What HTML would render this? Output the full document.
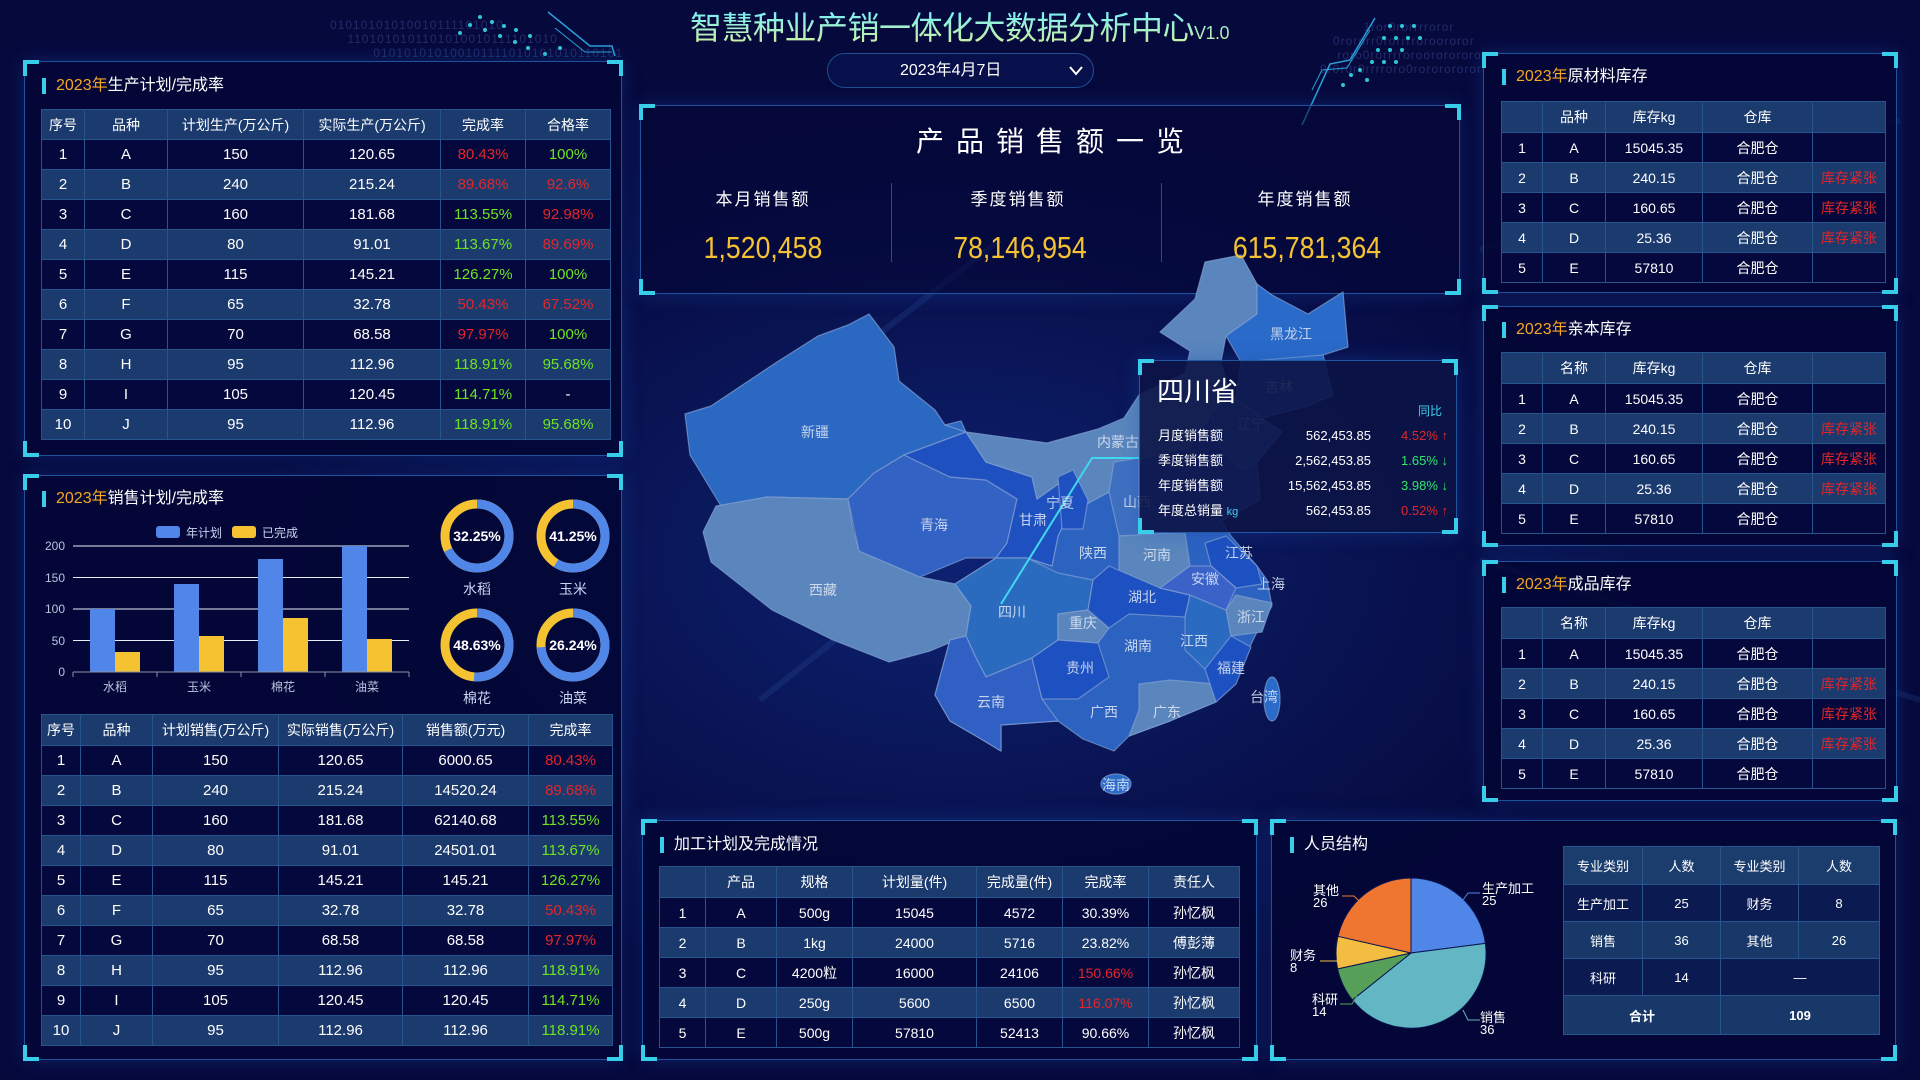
<!DOCTYPE html>
<html><head><meta charset="utf-8">
<style>
*{margin:0;padding:0;box-sizing:border-box}
body{width:1920px;height:1080px;overflow:hidden;position:relative;font-family:"Liberation Sans","Noto Sans CJK SC",sans-serif;color:#fff;
background:radial-gradient(ellipse 700px 450px at 960px 560px,#0d2272 0%,#0a1658 45%,#06093c 100%);}
.abs{position:absolute}
.pnl{position:absolute;border:1px solid rgba(40,110,190,.75);background:rgba(3,6,52,.82);box-shadow:0 0 18px rgba(30,80,180,.35)}
.c{position:absolute;width:16px;height:16px;border-color:#38cde8;border-style:solid}
.tl{left:-2px;top:-2px;border-width:4px 0 0 4px}.tr{right:-2px;top:-2px;border-width:4px 4px 0 0}
.bl{left:-2px;bottom:-2px;border-width:0 0 4px 4px}.br{right:-2px;bottom:-2px;border-width:0 4px 4px 0}
.ttl{position:absolute;font-size:16px;line-height:20px;color:#fff;padding-left:14px;white-space:nowrap}
.ttl:before{content:"";position:absolute;left:0;top:2px;width:4px;height:16px;background:#38cde8}
.ttl b{font-weight:normal;color:#f5a623}
table{position:absolute;border-collapse:collapse;table-layout:fixed;font-size:15px}
td,th{border:1px solid #28548e;text-align:center;white-space:nowrap;overflow:hidden;font-weight:normal}
th{font-size:14px;background:#1b3a6e}
tr:nth-child(odd) td{background:#1b3a6e}
tr:nth-child(even) td{background:#05083c}
.r{color:#e3262a}.g{color:#6ee41e}
.t1 td,.t1 th{height:30px}
.num{position:absolute;text-align:center;font-size:31px;line-height:34px;color:#f5c332;transform:scaleX(0.86)}
</style></head><body>

<div class="abs" style="left:330px;top:18px;font-size:12px;color:rgba(90,110,190,.35);letter-spacing:1px;line-height:14px">01010101010010111101010<br>&nbsp;&nbsp;&nbsp;&nbsp;1101010101101010010111101010<br>&nbsp;&nbsp;&nbsp;&nbsp;&nbsp;&nbsp;&nbsp;&nbsp;&nbsp;&nbsp;010101010100101111010101010110101</div>
<div class="abs" style="left:1320px;top:20px;font-size:12px;color:rgba(90,110,190,.35);letter-spacing:1px;line-height:14px">&nbsp;&nbsp;&nbsp;&nbsp;&nbsp;&nbsp;&nbsp;&nbsp;&nbsp;&nbsp;1ror0rorrrroror<br>&nbsp;&nbsp;&nbsp;0rororr0rorrrroroororor<br>&nbsp;&nbsp;&nbsp;&nbsp;roro0rorrrroroorororororr<br>0r0r0r0rrrroro0rorororororr</div>

<svg class="abs" style="left:0;top:0" width="1920" height="1080">
 <g fill="#2fc7d8">
  <circle cx="480" cy="17" r="2"/><circle cx="492" cy="22" r="2"/><circle cx="504" cy="26" r="2"/><circle cx="516" cy="30" r="2"/><circle cx="470" cy="25" r="2"/><circle cx="485" cy="30" r="2"/><circle cx="500" cy="36" r="2"/><circle cx="515" cy="42" r="2"/><circle cx="528" cy="48" r="2"/><circle cx="545" cy="54" r="2"/><circle cx="560" cy="48" r="2"/><circle cx="460" cy="33" r="2"/><circle cx="530" cy="36" r="2"/>
  <circle cx="1390" cy="26" r="2"/><circle cx="1402" cy="26" r="2"/><circle cx="1414" cy="26" r="2"/><circle cx="1384" cy="38" r="2"/><circle cx="1396" cy="38" r="2"/><circle cx="1408" cy="38" r="2"/><circle cx="1420" cy="38" r="2"/><circle cx="1378" cy="50" r="2"/><circle cx="1390" cy="50" r="2"/><circle cx="1402" cy="50" r="2"/><circle cx="1372" cy="62" r="2"/><circle cx="1384" cy="62" r="2"/><circle cx="1396" cy="62" r="2"/><circle cx="1343" cy="85" r="2"/><circle cx="1351" cy="75" r="2"/><circle cx="1360" cy="70" r="2"/><circle cx="1367" cy="80" r="2"/>
 </g>
 <path d="M548 12 L590 46 L612 46 L615 56" stroke="#2aa0d8" fill="none" stroke-width="1.5"/>
 <path d="M555 28 L585 52 L612 52" stroke="#2aa0d8" fill="none" stroke-width="1"/>
 <path d="M1375 18 L1350 60 L1330 64 L1302 125" stroke="#2aa0d8" fill="none" stroke-width="1.5"/>
 <path d="M1370 30 L1347 68 L1322 70 L1312 90" stroke="#2aa0d8" fill="none" stroke-width="1"/>
 <path d="M820 380 L1000 240 M760 700 L960 540 M1480 250 L1900 120 M1480 560 L1920 700" stroke="rgba(80,140,230,.12)" stroke-width="6"/>
</svg>

<div class="abs" style="left:690px;top:8px;width:560px;white-space:nowrap;font-size:32px;line-height:40px;letter-spacing:-0.5px;background:linear-gradient(#6ff0ff,#e6f08a);-webkit-background-clip:text;background-clip:text;color:transparent">智慧种业产销一体化大数据分析中心<span style="font-size:18px">V1.0</span></div>
<div class="abs" style="left:827px;top:53px;width:267px;height:35px;border:1px solid #1f4f90;border-radius:18px;background:#07104a"></div>
<div class="abs" style="left:900px;top:61px;font-size:16px;line-height:20px">2023年4月7日</div>
<svg class="abs" style="left:1068px;top:65px" width="16" height="12"><path d="M2 2 L8 9 L14 2" stroke="#fff" stroke-width="2" fill="none"/></svg>

<div class="pnl" style="left:24px;top:61px;width:598px;height:395px"><i class="c tl"></i><i class="c tr"></i><i class="c bl"></i><i class="c br"></i></div>
<div class="ttl" style="left:42px;top:76px"><b>2023年</b>生产计划/完成率</div>
<table class="t1" style="left:41px;top:109px;width:569px">
<colgroup><col style="width:43px"><col style="width:83px"><col style="width:136px"><col style="width:137px"><col style="width:85px"><col style="width:85px"></colgroup>
<tr><th>序号</th><th>品种</th><th>计划生产(万公斤)</th><th>实际生产(万公斤)</th><th>完成率</th><th>合格率</th></tr>
<tr><td>1</td><td>A</td><td>150</td><td>120.65</td><td class="r">80.43%</td><td class="g">100%</td></tr>
<tr><td>2</td><td>B</td><td>240</td><td>215.24</td><td class="r">89.68%</td><td class="r">92.6%</td></tr>
<tr><td>3</td><td>C</td><td>160</td><td>181.68</td><td class="g">113.55%</td><td class="r">92.98%</td></tr>
<tr><td>4</td><td>D</td><td>80</td><td>91.01</td><td class="g">113.67%</td><td class="r">89.69%</td></tr>
<tr><td>5</td><td>E</td><td>115</td><td>145.21</td><td class="g">126.27%</td><td class="g">100%</td></tr>
<tr><td>6</td><td>F</td><td>65</td><td>32.78</td><td class="r">50.43%</td><td class="r">67.52%</td></tr>
<tr><td>7</td><td>G</td><td>70</td><td>68.58</td><td class="r">97.97%</td><td class="g">100%</td></tr>
<tr><td>8</td><td>H</td><td>95</td><td>112.96</td><td class="g">118.91%</td><td class="g">95.68%</td></tr>
<tr><td>9</td><td>I</td><td>105</td><td>120.45</td><td class="g">114.71%</td><td>-</td></tr>
<tr><td>10</td><td>J</td><td>95</td><td>112.96</td><td class="g">118.91%</td><td class="g">95.68%</td></tr>
</table>

<div class="pnl" style="left:24px;top:475px;width:598px;height:585px"><i class="c tl"></i><i class="c tr"></i><i class="c bl"></i><i class="c br"></i></div>
<div class="ttl" style="left:42px;top:489px"><b>2023年</b>销售计划/完成率</div>
<svg class="abs" style="left:0;top:0" width="640" height="720" font-family="Liberation Sans,Noto Sans CJK SC,sans-serif">
 <rect x="156" y="526" width="24" height="12" rx="3" fill="#4f86e8"/><text x="186" y="537" font-size="12" fill="#c8d4f0">年计划</text>
 <rect x="232" y="526" width="24" height="12" rx="3" fill="#f5c332"/><text x="262" y="537" font-size="12" fill="#c8d4f0">已完成</text>
 <g stroke="#e8eef8" stroke-width="1"><line x1="73" y1="546" x2="409" y2="546"/><line x1="73" y1="577.5" x2="409" y2="577.5"/><line x1="73" y1="609" x2="409" y2="609"/><line x1="73" y1="640.5" x2="409" y2="640.5"/></g>
 <g fill="#b8c4e0" font-size="12" text-anchor="end"><text x="65" y="550">200</text><text x="65" y="582">150</text><text x="65" y="613">100</text><text x="65" y="645">50</text><text x="65" y="676">0</text></g>
 <g fill="#4f86e8"><rect x="90" y="609" width="25" height="63"/><rect x="174" y="584" width="25" height="88"/><rect x="258" y="559" width="25" height="113"/><rect x="342" y="546" width="25" height="126"/></g>
 <g fill="#f5c332"><rect x="115" y="652" width="25" height="20"/><rect x="199" y="636" width="25" height="36"/><rect x="283" y="618" width="25" height="54"/><rect x="367" y="639" width="25" height="33"/></g>
 <g stroke="#8a94a8"><line x1="73" y1="672" x2="409" y2="672"/><line x1="73" y1="672" x2="73" y2="677"/><line x1="157" y1="672" x2="157" y2="677"/><line x1="241" y1="672" x2="241" y2="677"/><line x1="325" y1="672" x2="325" y2="677"/><line x1="409" y1="672" x2="409" y2="677"/></g>
 <g fill="#b8c4e0" font-size="12" text-anchor="middle"><text x="115" y="691">水稻</text><text x="199" y="691">玉米</text><text x="283" y="691">棉花</text><text x="367" y="691">油菜</text></g>
 <g fill="none" stroke-width="9">
  <circle cx="477" cy="536" r="32" stroke="#f5c332"/><circle cx="477" cy="536" r="32" stroke="#4f86e8" stroke-dasharray="136.2 300" transform="rotate(-90 477 536)"/>
  <circle cx="573" cy="536" r="32" stroke="#f5c332"/><circle cx="573" cy="536" r="32" stroke="#4f86e8" stroke-dasharray="118.2 300" transform="rotate(-90 573 536)"/>
  <circle cx="477" cy="645" r="32" stroke="#f5c332"/><circle cx="477" cy="645" r="32" stroke="#4f86e8" stroke-dasharray="103.3 300" transform="rotate(-90 477 645)"/>
  <circle cx="573" cy="645" r="32" stroke="#f5c332"/><circle cx="573" cy="645" r="32" stroke="#4f86e8" stroke-dasharray="148.3 300" transform="rotate(-90 573 645)"/>
 </g>
 <g fill="#fff" font-size="14" font-weight="bold" text-anchor="middle"><text x="477" y="541">32.25%</text><text x="573" y="541">41.25%</text><text x="477" y="650">48.63%</text><text x="573" y="650">26.24%</text></g>
 <g fill="#c8d4f0" font-size="14" text-anchor="middle"><text x="477" y="594">水稻</text><text x="573" y="594">玉米</text><text x="477" y="703">棉花</text><text x="573" y="703">油菜</text></g>
</svg>
<table class="t1" style="left:41px;top:714px;width:571px">
<colgroup><col style="width:39px"><col style="width:72px"><col style="width:126px"><col style="width:124px"><col style="width:126px"><col style="width:84px"></colgroup>
<tr><th style="height:31px">序号</th><th>品种</th><th>计划销售(万公斤)</th><th>实际销售(万公斤)</th><th>销售额(万元)</th><th>完成率</th></tr>
<tr><td>1</td><td>A</td><td>150</td><td>120.65</td><td>6000.65</td><td class="r">80.43%</td></tr>
<tr><td>2</td><td>B</td><td>240</td><td>215.24</td><td>14520.24</td><td class="r">89.68%</td></tr>
<tr><td>3</td><td>C</td><td>160</td><td>181.68</td><td>62140.68</td><td class="g">113.55%</td></tr>
<tr><td>4</td><td>D</td><td>80</td><td>91.01</td><td>24501.01</td><td class="g">113.67%</td></tr>
<tr><td>5</td><td>E</td><td>115</td><td>145.21</td><td>145.21</td><td class="g">126.27%</td></tr>
<tr><td>6</td><td>F</td><td>65</td><td>32.78</td><td>32.78</td><td class="r">50.43%</td></tr>
<tr><td>7</td><td>G</td><td>70</td><td>68.58</td><td>68.58</td><td class="r">97.97%</td></tr>
<tr><td>8</td><td>H</td><td>95</td><td>112.96</td><td>112.96</td><td class="g">118.91%</td></tr>
<tr><td>9</td><td>I</td><td>105</td><td>120.45</td><td>120.45</td><td class="g">114.71%</td></tr>
<tr><td>10</td><td>J</td><td>95</td><td>112.96</td><td>112.96</td><td class="g">118.91%</td></tr>
</table>

<div class="pnl" style="left:640px;top:105px;width:820px;height:189px;background:rgba(3,6,52,.55)"><i class="c tl"></i><i class="c tr"></i><i class="c bl"></i><i class="c br"></i></div>

<svg class="abs" style="left:0;top:0" width="1920" height="1080" font-family="Liberation Sans,Noto Sans CJK SC,sans-serif">
 <g stroke="rgba(130,160,210,.7)" stroke-width="1.2" stroke-linejoin="round">
  <polygon fill="#2a68c2" points="685,414 711,406 777,362 818,336 848,325 869,314 894,347 899,381 935,410 945,425 961,421 966,432 904,455 874,473 848,499 767,497 721,506 690,455"/>
  <polygon fill="#5a86bd" points="716,506 767,497 848,499 853,529 859,551 920,577 955,584 971,606 966,636 930,651 889,662 833,640 772,610 711,562 703,532"/>
  <polygon fill="#2c62c0" points="1068,477 1083,506 1109,492 1129,462 1190,447 1211,414 1221,447 1241,469 1257,462 1260,500 1221,521 1231,536 1257,566 1267,580 1272,606 1257,632 1241,665 1216,702 1170,721 1129,736 1114,751 1083,739 1058,721 1001,725 1001,751 976,736 950,721 935,695 950,640 966,636 971,606 955,584 996,558 1027,558 1052,566 1058,536 1073,506"/>
  <polygon fill="#3262c4" points="848,499 874,473 904,455 950,477 986,480 1017,499 1007,543 996,558 966,558 920,577 859,551"/>
  <polygon fill="#1f50c0" points="945,425 966,432 986,462 1032,477 1037,499 1068,477 1073,506 1058,536 1052,566 1027,558 996,558 1007,543 1017,499 986,480 950,477 904,455 966,432"/>
  <polygon fill="#5a86bd" points="966,432 1047,443 1098,429 1124,418 1139,395 1185,373 1190,351 1160,332 1195,299 1205,262 1241,255 1257,284 1257,314 1226,336 1221,362 1231,395 1211,414 1190,447 1129,462 1109,492 1083,506 1068,477 1037,499 1032,477 986,462"/>
  <polygon fill="#2a6ac8" points="1257,284 1272,295 1308,314 1343,292 1348,347 1323,355 1277,362 1241,362 1226,336 1257,314"/>
  <polygon fill="#2a6ac8" points="1241,362 1323,355 1333,395 1308,406 1262,418 1236,399"/>
  <polygon fill="#3a6ec8" points="1236,399 1262,418 1282,432 1257,462 1241,469 1221,447 1211,414 1231,395"/>
  <polygon fill="#1f50c0" points="1058,477 1073,470 1088,500 1083,529 1062,529"/>
  <polygon fill="#3f70c0" points="1114,462 1139,458 1139,536 1119,536 1109,492"/>
  <polygon fill="#2b6bbf" points="955,584 996,558 1027,558 1058,573 1093,580 1088,610 1058,614 1058,640 1032,658 986,677 976,658 966,636 971,606"/>
  <polygon fill="#3060c4" points="935,695 950,640 966,636 976,658 986,677 1032,658 1042,699 1058,721 1001,725 1001,751 976,736 950,721"/>
  <polygon fill="#5a86bd" points="1119,536 1185,532 1190,566 1160,588 1119,573"/>
  <polygon fill="#5a86bd" points="1139,684 1170,680 1216,684 1216,702 1170,721 1129,736 1139,710"/>
  <polygon fill="#5a86bd" points="1236,595 1272,603 1262,632 1231,636 1226,610"/>
  <polygon fill="#5a86bd" points="1058,614 1088,610 1109,628 1098,643 1058,640"/>
  <polygon fill="#1d50c0" points="1109,566 1160,588 1190,595 1185,617 1129,614 1109,628 1088,610 1093,580"/>
  <polygon fill="#1d50c0" points="1032,658 1058,640 1098,643 1109,677 1078,699 1042,699"/>
  <polygon fill="#1d50c0" points="1210,636 1231,636 1251,647 1236,684 1216,702 1205,669"/>
  <polygon fill="#1d50c0" points="1205,543 1226,536 1257,566 1262,584 1236,588 1211,566"/>
  <polygon fill="#2a6ac0" points="1190,595 1226,610 1231,636 1205,669 1185,650 1185,617"/>
  <polygon fill="#3a62c8" points="1160,588 1190,566 1211,566 1236,588 1226,610 1190,595"/>
  <ellipse cx="1116" cy="784" rx="15" ry="10" fill="#2a6ac8"/>
  <ellipse cx="1272" cy="699" rx="8" ry="22" fill="#2a6ac8"/>
 </g>
 <polyline points="1001,604 1092,458 1139,458" stroke="#3fd8f0" stroke-width="2" fill="none"/>
 <g fill="rgba(225,232,245,.85)" font-size="14" text-anchor="middle">
  <text x="815" y="437">新疆</text><text x="823" y="595">西藏</text><text x="934" y="530">青海</text><text x="1033" y="525">甘肃</text><text x="1060" y="508">宁夏</text><text x="1118" y="447">内蒙古</text><text x="1291" y="339">黑龙江</text><text x="1279" y="392">吉林</text><text x="1251" y="429">辽宁</text><text x="1137" y="507">山西</text><text x="1093" y="558">陕西</text><text x="1157" y="560">河南</text><text x="1239" y="558">江苏</text><text x="1205" y="584">安徽</text><text x="1271" y="589">上海</text><text x="1142" y="602">湖北</text><text x="1012" y="617">四川</text><text x="1083" y="628">重庆</text><text x="1251" y="622">浙江</text><text x="1138" y="651">湖南</text><text x="1194" y="646">江西</text><text x="1080" y="673">贵州</text><text x="1231" y="673">福建</text><text x="1264" y="702">台湾</text><text x="991" y="707">云南</text><text x="1104" y="717">广西</text><text x="1167" y="717">广东</text><text x="1116" y="790">海南</text>
 </g>
</svg>

<div class="abs" style="left:640px;top:124px;width:820px;text-align:center;font-size:28px;line-height:36px;letter-spacing:12px;padding-left:12px">产品销售额一览</div>
<div class="abs" style="left:891px;top:183px;width:1px;height:79px;background:#1f4f90"></div>
<div class="abs" style="left:1161px;top:183px;width:1px;height:79px;background:#1f4f90"></div>
<div class="abs" style="left:663px;top:185px;width:200px;text-align:center;font-size:17px;letter-spacing:2px">本月销售额</div>
<div class="abs" style="left:918px;top:185px;width:200px;text-align:center;font-size:17px;letter-spacing:2px">季度销售额</div>
<div class="abs" style="left:1205px;top:185px;width:200px;text-align:center;font-size:17px;letter-spacing:2px">年度销售额</div>
<div class="num" style="left:663px;top:231px;width:200px">1,520,458</div>
<div class="num" style="left:920px;top:231px;width:200px">78,146,954</div>
<div class="num" style="left:1207px;top:231px;width:200px">615,781,364</div>

<div class="pnl" style="left:1139px;top:360px;width:318px;height:173px;background:rgba(12,20,70,.9)"><i class="c tl"></i><i class="c tr"></i><i class="c bl"></i><i class="c br"></i></div>
<div class="abs" style="left:1157px;top:376px;font-size:27px;line-height:32px">四川省</div>
<div class="abs" style="left:1418px;top:402px;font-size:12px;color:#3fd0f0">同比</div>
<div class="abs" style="left:1158px;top:423px;width:290px;font-size:13px;line-height:25px">
 <div style="position:relative">月度销售额<span style="position:absolute;right:77px">562,453.85</span><span class="r" style="position:absolute;right:0">4.52% ↑</span></div>
 <div style="position:relative">季度销售额<span style="position:absolute;right:77px">2,562,453.85</span><span style="position:absolute;right:0;color:#2ee66a">1.65% ↓</span></div>
 <div style="position:relative">年度销售额<span style="position:absolute;right:77px">15,562,453.85</span><span style="position:absolute;right:0;color:#2ee66a">3.98% ↓</span></div>
 <div style="position:relative">年度总销量 <span style="color:#3fd0f0;font-size:11px">kg</span><span style="position:absolute;right:77px">562,453.85</span><span class="r" style="position:absolute;right:0">0.52% ↑</span></div>
</div>

<div class="pnl" style="left:1483px;top:53px;width:414px;height:240px"><i class="c tl"></i><i class="c tr"></i><i class="c bl"></i><i class="c br"></i></div>
<div class="ttl" style="left:1502px;top:67px"><b>2023年</b>原材料库存</div>
<table class="t1" style="left:1501px;top:101px;width:384px;font-size:14px">
<colgroup><col style="width:41px"><col style="width:63px"><col style="width:97px"><col style="width:110px"><col style="width:73px"></colgroup>
<tr><th style="height:31px"></th><th>品种</th><th>库存kg</th><th>仓库</th><th></th></tr>
<tr><td>1</td><td>A</td><td>15045.35</td><td>合肥仓</td><td></td></tr>
<tr><td>2</td><td>B</td><td>240.15</td><td>合肥仓</td><td class="r">库存紧张</td></tr>
<tr><td>3</td><td>C</td><td>160.65</td><td>合肥仓</td><td class="r">库存紧张</td></tr>
<tr><td>4</td><td>D</td><td>25.36</td><td>合肥仓</td><td class="r">库存紧张</td></tr>
<tr><td>5</td><td>E</td><td>57810</td><td>合肥仓</td><td></td></tr>
</table>

<div class="pnl" style="left:1483px;top:306px;width:414px;height:240px"><i class="c tl"></i><i class="c tr"></i><i class="c bl"></i><i class="c br"></i></div>
<div class="ttl" style="left:1502px;top:320px"><b>2023年</b>亲本库存</div>
<table class="t1" style="left:1501px;top:352px;width:384px;font-size:14px">
<colgroup><col style="width:41px"><col style="width:63px"><col style="width:97px"><col style="width:110px"><col style="width:73px"></colgroup>
<tr><th style="height:31px"></th><th>名称</th><th>库存kg</th><th>仓库</th><th></th></tr>
<tr><td>1</td><td>A</td><td>15045.35</td><td>合肥仓</td><td></td></tr>
<tr><td>2</td><td>B</td><td>240.15</td><td>合肥仓</td><td class="r">库存紧张</td></tr>
<tr><td>3</td><td>C</td><td>160.65</td><td>合肥仓</td><td class="r">库存紧张</td></tr>
<tr><td>4</td><td>D</td><td>25.36</td><td>合肥仓</td><td class="r">库存紧张</td></tr>
<tr><td>5</td><td>E</td><td>57810</td><td>合肥仓</td><td></td></tr>
</table>

<div class="pnl" style="left:1483px;top:561px;width:414px;height:240px"><i class="c tl"></i><i class="c tr"></i><i class="c bl"></i><i class="c br"></i></div>
<div class="ttl" style="left:1502px;top:575px"><b>2023年</b>成品库存</div>
<table class="t1" style="left:1501px;top:607px;width:384px;font-size:14px">
<colgroup><col style="width:41px"><col style="width:63px"><col style="width:97px"><col style="width:110px"><col style="width:73px"></colgroup>
<tr><th style="height:31px"></th><th>名称</th><th>库存kg</th><th>仓库</th><th></th></tr>
<tr><td>1</td><td>A</td><td>15045.35</td><td>合肥仓</td><td></td></tr>
<tr><td>2</td><td>B</td><td>240.15</td><td>合肥仓</td><td class="r">库存紧张</td></tr>
<tr><td>3</td><td>C</td><td>160.65</td><td>合肥仓</td><td class="r">库存紧张</td></tr>
<tr><td>4</td><td>D</td><td>25.36</td><td>合肥仓</td><td class="r">库存紧张</td></tr>
<tr><td>5</td><td>E</td><td>57810</td><td>合肥仓</td><td></td></tr>
</table>

<div class="pnl" style="left:642px;top:820px;width:615px;height:240px"><i class="c tl"></i><i class="c tr"></i><i class="c bl"></i><i class="c br"></i></div>
<div class="ttl" style="left:660px;top:835px">加工计划及完成情况</div>
<table class="t1" style="left:659px;top:866px;width:580px;font-size:14px">
<colgroup><col style="width:46px"><col style="width:71px"><col style="width:76px"><col style="width:124px"><col style="width:86px"><col style="width:86px"><col style="width:91px"></colgroup>
<tr><th style="height:31px"></th><th>产品</th><th>规格</th><th>计划量(件)</th><th>完成量(件)</th><th>完成率</th><th>责任人</th></tr>
<tr><td>1</td><td>A</td><td>500g</td><td>15045</td><td>4572</td><td>30.39%</td><td>孙忆枫</td></tr>
<tr><td>2</td><td>B</td><td>1kg</td><td>24000</td><td>5716</td><td>23.82%</td><td>傅彭薄</td></tr>
<tr><td>3</td><td>C</td><td>4200粒</td><td>16000</td><td>24106</td><td class="r">150.66%</td><td>孙忆枫</td></tr>
<tr><td>4</td><td>D</td><td>250g</td><td>5600</td><td>6500</td><td class="r">116.07%</td><td>孙忆枫</td></tr>
<tr><td>5</td><td>E</td><td>500g</td><td>57810</td><td>52413</td><td>90.66%</td><td>孙忆枫</td></tr>
</table>

<div class="pnl" style="left:1271px;top:820px;width:625px;height:240px"><i class="c tl"></i><i class="c tr"></i><i class="c bl"></i><i class="c br"></i></div>
<div class="ttl" style="left:1290px;top:835px">人员结构</div>
<svg class="abs" style="left:1260px;top:860px" width="300" height="200" font-family="Liberation Sans,Noto Sans CJK SC,sans-serif">
 <g stroke="#0a1450" stroke-width="1">
 <path d="M151 93 L151 18 A75 75 0 0 1 225.4 83.4 Z" fill="#4f86e8"/>
 <path d="M151 93 L225.4 83.4 A75 75 0 0 1 92.4 139.9 Z" fill="#63b7c4"/>
 <path d="M151 93 L92.4 139.9 A75 75 0 0 1 77.6 108.9 Z" fill="#57a05a"/>
 <path d="M151 93 L77.6 108.9 A75 75 0 0 1 78.0 76.3 Z" fill="#f3bd41"/>
 <path d="M151 93 L78.0 76.3 A75 75 0 0 1 151 18 Z" fill="#ee7631"/>
 </g>
 <g fill="none" stroke-width="1"><path d="M203 40 L208 33 L220 33" stroke="#4f86e8"/><path d="M203 150 L208 160 L220 160" stroke="#63b7c4"/><path d="M97 136 L92 144 L80 144" stroke="#57a05a"/><path d="M78 101 L60 101" stroke="#f3bd41"/><path d="M100 42 L94 36 L82 36" stroke="#ee7631"/></g>
 <g fill="#fff" font-size="13">
  <text x="222" y="33">生产加工</text><text x="222" y="45">25</text>
  <text x="220" y="162">销售</text><text x="220" y="174">36</text>
  <text x="52" y="144">科研</text><text x="52" y="156">14</text>
  <text x="30" y="100">财务</text><text x="30" y="112">8</text>
  <text x="53" y="35">其他</text><text x="53" y="47">26</text>
 </g>
</svg>
<table style="left:1563px;top:846px;width:316px;font-size:13px">
<colgroup><col style="width:79px"><col style="width:78px"><col style="width:78px"><col style="width:81px"></colgroup>
<tr><td style="height:38px;background:#1b3d6e">专业类别</td><td style="background:#1b3d6e">人数</td><td style="background:#1b3d6e">专业类别</td><td style="background:#1b3d6e">人数</td></tr>
<tr><td style="height:37px;background:#0c1a52">生产加工</td><td style="background:#0c1a52">25</td><td style="background:#0c1a52">财务</td><td style="background:#0c1a52">8</td></tr>
<tr><td style="height:37px;background:#173868">销售</td><td style="background:#173868">36</td><td style="background:#173868">其他</td><td style="background:#173868">26</td></tr>
<tr><td style="height:37px;background:#0c1a52">科研</td><td style="background:#0c1a52">14</td><td colspan="2" style="background:#0c1a52">—</td></tr>
<tr><td colspan="2" style="height:39px;background:#173868;font-weight:bold">合计</td><td colspan="2" style="background:#173868;font-weight:bold">109</td></tr>
</table>
</body></html>
